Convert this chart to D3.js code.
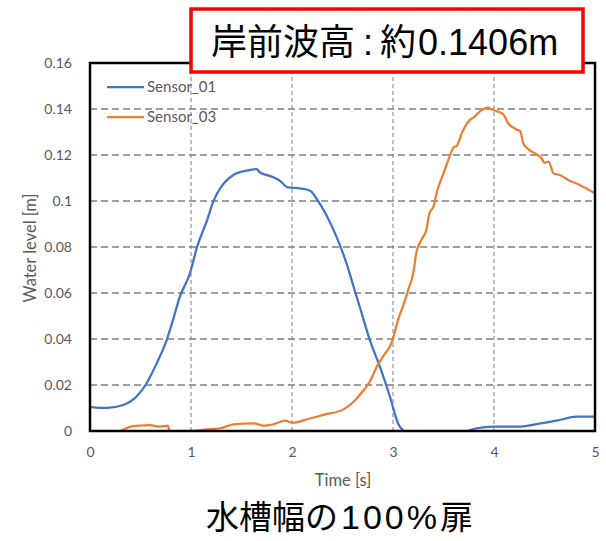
<!DOCTYPE html>
<html><head><meta charset="utf-8">
<script src="https://cdn.jsdelivr.net/npm/d3@7"></script>
<style>body{margin:0;background:#fff}svg{display:block}</style>
</head><body>
<script>
const seriesNames = ["Sensor_01", "Sensor_03"];
const seriesColors = ["#4472C4", "#ED7D31"];
const xTicks = [0, 1, 2, 3, 4, 5];
const yTicks = [0, 0.02, 0.04, 0.06, 0.08, 0.1, 0.12, 0.14, 0.16];
const yTickLabels = ["0", "0.02", "0.04", "0.06", "0.08", "0.1", "0.12", "0.14", "0.16"];

const s01Time  = [0, 0.1, 0.17, 0.33, 0.45, 0.5, 0.55, 0.6, 0.66, 0.76, 0.82, 0.89, 0.99, 1.06, 1.16, 1.22, 1.30, 1.42, 1.55, 1.65, 1.68, 1.80, 1.88, 1.96, 2.08, 2.18, 2.24, 2.34, 2.44, 2.54, 2.61, 2.64, 2.70, 2.77, 2.87, 2.97, 3.05, 3.11, 3.2, 3.4, 3.6, 3.73, 3.83, 3.99, 4.26, 4.46, 4.62, 4.82, 5.0];
const s01Level = [0.0105, 0.0101, 0.0101, 0.0113, 0.0145, 0.0170, 0.0200, 0.0240, 0.0294, 0.0396, 0.0480, 0.0584, 0.0686, 0.0800, 0.0917, 0.0997, 0.1062, 0.1113, 0.1132, 0.1139, 0.1125, 0.1106, 0.1088, 0.1059, 0.1055, 0.1045, 0.1012, 0.0939, 0.0845, 0.0729, 0.0627, 0.0584, 0.0497, 0.0396, 0.0280, 0.0149, 0.0033, -0.0003, -0.005, -0.008, -0.005, -0.0002, 0.0012, 0.0019, 0.0019, 0.0033, 0.0045, 0.0062, 0.0062];

const s03Time  = [0, 0.15, 0.30, 0.40, 0.48, 0.59, 0.69, 0.77, 0.79, 0.9, 1.02, 1.15, 1.29, 1.42, 1.62, 1.72, 1.82, 1.93, 2.01, 2.15, 2.31, 2.51, 2.61, 2.71, 2.77, 2.84, 2.90, 2.99, 3.05, 3.12, 3.15, 3.20, 3.23, 3.28, 3.33, 3.36, 3.40, 3.44, 3.50, 3.56, 3.60, 3.63, 3.68, 3.76, 3.80, 3.87, 3.94, 3.99, 4.09, 4.14, 4.22, 4.26, 4.29, 4.34, 4.47, 4.50, 4.54, 4.59, 4.65, 4.75, 4.85, 5.0];
const s03Level = [-0.004, -0.003, -0.0001, 0.0019, 0.0023, 0.0026, 0.0019, 0.0023, -0.0001, -0.0002, 0.0001, 0.0007, 0.0012, 0.0029, 0.0033, 0.0023, 0.0030, 0.0045, 0.0036, 0.0051, 0.0070, 0.0094, 0.0127, 0.0178, 0.0214, 0.0280, 0.0323, 0.0388, 0.0483, 0.0570, 0.0613, 0.0686, 0.0773, 0.0830, 0.0874, 0.0946, 0.0975, 0.1048, 0.1120, 0.1193, 0.1233, 0.1239, 0.1294, 0.1352, 0.1364, 0.1393, 0.1406, 0.1396, 0.1378, 0.1338, 0.1312, 0.1302, 0.1251, 0.1225, 0.1186, 0.1167, 0.1171, 0.1120, 0.1113, 0.1088, 0.1070, 0.1033];

const titleParts = ["岸前波高", ":", "約", "0.1406m"];
const captionParts = ["水槽幅の", "100%", "扉"];
const xTitle = "Time [s]";
const yTitle = "Water level [m]";

const W = 606, H = 541;
const m = {left: 90, right: 595, top: 63, bottom: 431};
const svg = d3.select("body").append("svg").attr("width", W).attr("height", H);
const x = d3.scaleLinear().domain([0, 5]).range([m.left, m.right]);
const y = d3.scaleLinear().domain([0, 0.16]).range([m.bottom, m.top]);
const tickFont = "Lato, 'Open Sans', sans-serif";
const cjk = "'Noto Sans CJK JP', sans-serif";
const latin = "'Liberation Sans', Arial, sans-serif";
const gray = "#595959";

svg.append("defs").append("clipPath").attr("id", "clip")
  .append("rect").attr("x", m.left).attr("y", m.top).attr("width", m.right - m.left).attr("height", m.bottom - m.top);

// grid
svg.append("g").selectAll("line").data(yTicks.filter(d => d > 0 && d < 0.16)).join("line")
  .attr("x1", m.left).attr("x2", m.right).attr("y1", d => y(d)).attr("y2", d => y(d))
  .attr("stroke", "#7f7f7f").attr("stroke-width", 1.5).attr("stroke-dasharray", "7,4");
svg.append("g").selectAll("line").data(xTicks.filter(d => d > 0 && d < 5)).join("line")
  .attr("y1", m.top).attr("y2", m.bottom).attr("x1", d => x(d)).attr("x2", d => x(d))
  .attr("stroke", "#7f7f7f").attr("stroke-width", 1).attr("stroke-dasharray", "4,3");

// axes labels via d3 axes
const yAxis = svg.append("g").attr("transform", `translate(${m.left - 15},0)`)
  .call(d3.axisLeft(y).tickValues(yTicks).tickFormat((d, i) => yTickLabels[i]).tickSize(0));
yAxis.select(".domain").remove();
yAxis.selectAll("text").attr("fill", gray).style("font-family", tickFont).style("font-size", "14px");

const xAxis = svg.append("g").attr("transform", `translate(0,${m.bottom + 13})`)
  .call(d3.axisBottom(x).tickValues(xTicks).tickFormat(d3.format("d")).tickSize(0));
xAxis.select(".domain").remove();
xAxis.selectAll("text").attr("fill", gray).style("font-family", tickFont).style("font-size", "14px");

// lines
const line = d3.line().x(d => x(d[0])).y(d => y(d[1])).curve(d3.curveMonotoneX);
const series = [d3.zip(s01Time, s01Level), d3.zip(s03Time, s03Level)];
svg.append("g").attr("clip-path", "url(#clip)").selectAll("path").data(series).join("path")
  .attr("d", line).attr("fill", "none")
  .attr("stroke", (d, i) => seriesColors[i]).attr("stroke-width", 2.25).attr("stroke-linejoin", "round");

// frame
svg.append("rect").attr("x", m.left).attr("y", m.top).attr("width", m.right - m.left).attr("height", m.bottom - m.top)
  .attr("fill", "none").attr("stroke", "#000").attr("stroke-width", 2.5);

// legend
const lg = svg.append("g").selectAll("g").data(seriesNames).join("g")
  .attr("transform", (d, i) => `translate(107,${87 + i * 30})`);
lg.append("line").attr("x1", 0).attr("x2", 37).attr("stroke", (d, i) => seriesColors[i]).attr("stroke-width", 2.25);
lg.append("text").attr("x", 40).attr("dy", "0.35em").text(d => d)
  .attr("fill", gray).style("font-family", tickFont).style("font-size", "15px");

// axis titles
svg.append("text").attr("x", 343).attr("y", 486).attr("text-anchor", "middle")
  .attr("fill", gray).style("font-family", tickFont).style("font-size", "16.5px").text(xTitle);
svg.append("text").attr("transform", `translate(36,248) rotate(-90)`).attr("text-anchor", "middle")
  .attr("fill", gray).style("font-family", tickFont).style("font-size", "16.5px").text(yTitle);

// title box
svg.append("rect").attr("x", 191).attr("y", 9).attr("width", 392).attr("height", 63)
  .attr("fill", "#fff").attr("stroke", "#FF0000").attr("stroke-width", 3.5);
const tt = svg.append("text").attr("x", 211).attr("y", 55).attr("fill", "#000").style("font-size", "36px");
tt.append("tspan").style("font-family", cjk).text(titleParts[0]);
tt.append("tspan").style("font-family", latin).attr("dx", 8).text(titleParts[1]);
tt.append("tspan").style("font-family", cjk).attr("dx", 7).text(titleParts[2]);
tt.append("tspan").style("font-family", latin).attr("dx", 2).text(titleParts[3]);

// caption
const ct = svg.append("text").attr("x", 206).attr("y", 529).attr("fill", "#000").style("font-size", "33px");
ct.append("tspan").style("font-family", cjk).text(captionParts[0]);
ct.append("tspan").style("font-family", latin).style("font-size", "34px").attr("dx", 3).style("letter-spacing", "3px").text(captionParts[1]);
ct.append("tspan").style("font-family", cjk).attr("dx", 0).text(captionParts[2]);
</script>
</body></html>
